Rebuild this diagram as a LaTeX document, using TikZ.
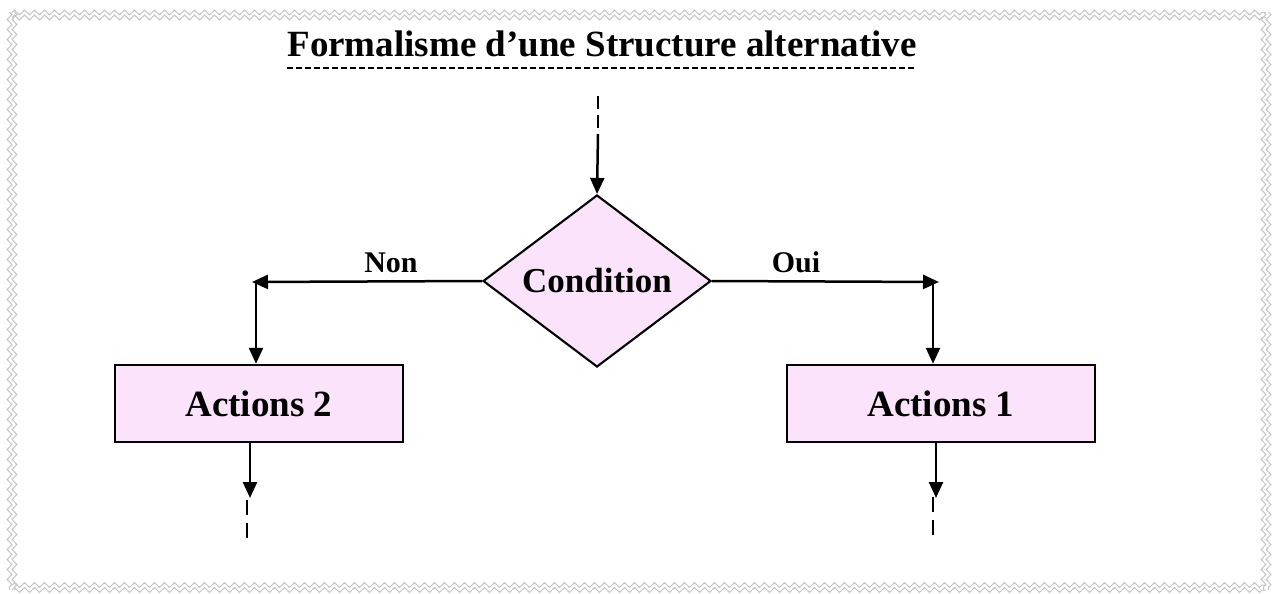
\documentclass[tikz,border=0pt]{standalone}
\usepackage{fontspec}
\setmainfont{Liberation Serif}
\usetikzlibrary{arrows.meta,shapes.geometric,decorations.pathmorphing}
\definecolor{boxpink}{RGB}{251,227,251}
\definecolor{framegray}{RGB}{195,195,195}
\begin{document}
\begin{tikzpicture}[x=1pt,y=-1pt,
  flow/.style={line width=2.5pt,-{Triangle[length=16pt,width=14pt]}},
  dashline/.style={line width=2.5pt,dash pattern=on 13pt off 6pt},
  actbox/.style={draw,line width=2.5pt,fill=boxpink,minimum height=77pt,inner sep=0pt,
     font=\bfseries\fontsize{37}{42}\selectfont},
  decbox/.style={draw,line width=2.1pt,fill=boxpink,shape=diamond,inner sep=0pt,
     minimum width=228pt,minimum height=172pt,aspect=1.32,
     font=\bfseries\fontsize{35}{40}\selectfont},
  lab/.style={font=\bfseries\fontsize{30}{34}\selectfont,inner sep=0pt,anchor=base},
  zz/.style={draw=framegray,line width=1pt,decorate,
     decoration={zigzag,segment length=10pt,amplitude=2.4pt}}
]
\useasboundingbox (0,0) rectangle (1272,594);
% frame: each side as two parallel zigzags
\draw[zz] (12,12.5) -- (1266,12.5);
\draw[zz] (12,17.5) -- (1266,17.5);
\draw[zz] (12,585) -- (1266,585);
\draw[zz] (12,590) -- (1266,590);
\draw[zz] (9.5,12) -- (9.5,590);
\draw[zz] (14.5,12) -- (14.5,590);
\draw[zz] (1263.5,12) -- (1263.5,590);
\draw[zz] (1268.5,12) -- (1268.5,590);
% title
\node[inner sep=0pt,anchor=base,font=\bfseries\fontsize{37}{44}\selectfont] (title) at (602,57)
  {Formalisme d’une Structure alternative};
\draw[line width=2pt,dash pattern=on 6pt off 3pt]
  ([yshift=-11pt]title.base west) -- ([yshift=-11pt]title.base east);
% nodes
\node[decbox] (cond) at (597,281) {Condition};
\node[actbox,minimum width=288pt] (a2) at (259,403.5) {Actions 2};
\node[actbox,minimum width=308pt] (a1) at (941,403.5) {Actions 1};
% top entry
\coordinate (t0) at (598,96);
\coordinate (t1) at (598,134);
\draw[dashline] (t0) -- (t1);
\draw[flow] (t1) -- (cond.north);
% Non branch
\coordinate (nl) at (252,282);
\coordinate (nc) at (256,282);
\draw[flow] (cond.west) -- (nl);
\draw[flow] (nc) -- (nc |- a2.north);
\node[lab] (non) at (391,272) {Non};
% Oui branch
\coordinate (ol) at (939,282);
\coordinate (oc) at (933,282);
\draw[flow] (cond.east) -- (ol);
\draw[flow] (oc) -- (oc |- a1.north);
\node[lab] (oui) at (796,272) {Oui};
% exits
\coordinate (a2o) at (250,498);
\draw[flow] (a2.south -| a2o) -- (a2o);
\coordinate (a2d0) at (247,500);
\coordinate (a2d1) at (247,538);
\draw[line width=2.5pt,dash pattern=on 15pt off 8pt] (a2d0) -- (a2d1);
\coordinate (a1o) at (936,498);
\draw[flow] (a1.south -| a1o) -- (a1o);
\coordinate (a1d0) at (933,497);
\coordinate (a1d1) at (933,535);
\draw[line width=2.5pt,dash pattern=on 15pt off 8pt] (a1d0) -- (a1d1);
\end{tikzpicture}
\end{document}
